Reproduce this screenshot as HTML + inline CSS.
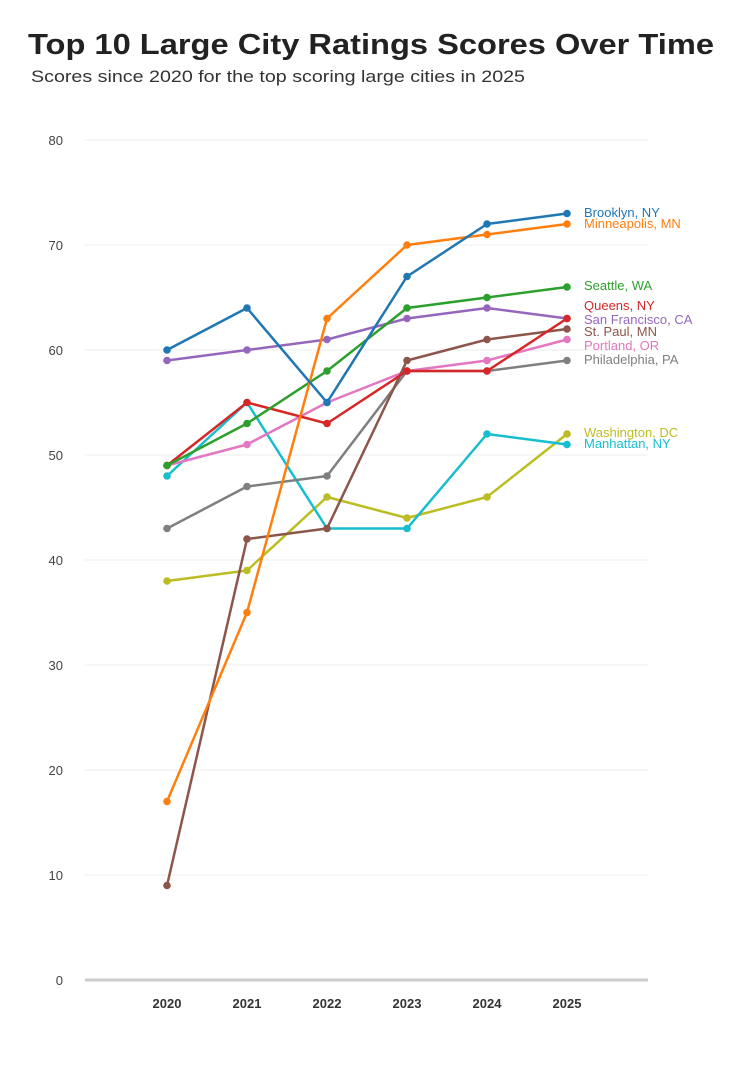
<!DOCTYPE html>
<html><head><meta charset="utf-8"><style>
body{margin:0;background:#fff;width:751px;height:1072px;overflow:hidden}
svg{display:block;font-family:"Liberation Sans",sans-serif}
.l{fill:none;stroke-width:2.5;stroke-linejoin:round}
.d{fill:none;stroke-width:7.6;stroke-linecap:round}
</style></head><body>
<svg width="751" height="1072" viewBox="0 0 751 1072">
<text x="28" y="54" font-size="29" font-weight="bold" fill="#222" textLength="686" lengthAdjust="spacingAndGlyphs">Top 10 Large City Ratings Scores Over Time</text>
<text x="31" y="82" font-size="17" fill="#333" textLength="494" lengthAdjust="spacingAndGlyphs">Scores since 2020 for the top scoring large cities in 2025</text>
<g stroke="#ececec" stroke-width="1">
<line x1="85" x2="648" y1="140" y2="140"/><line x1="85" x2="648" y1="245" y2="245"/><line x1="85" x2="648" y1="350" y2="350"/><line x1="85" x2="648" y1="455" y2="455"/><line x1="85" x2="648" y1="560" y2="560"/><line x1="85" x2="648" y1="665" y2="665"/><line x1="85" x2="648" y1="770" y2="770"/><line x1="85" x2="648" y1="875" y2="875"/>
</g>
<line x1="85" x2="648" y1="980" y2="980" stroke="#ccc" stroke-width="3"/>
<g font-size="13" fill="#444" text-anchor="end">
<text x="63" y="145">80</text><text x="63" y="250">70</text><text x="63" y="355">60</text><text x="63" y="460">50</text><text x="63" y="565">40</text><text x="63" y="670">30</text><text x="63" y="775">20</text><text x="63" y="880">10</text><text x="63" y="985">0</text>
</g>
<g font-size="13" font-weight="bold" fill="#333" text-anchor="middle">
<text x="167" y="1008">2020</text><text x="247" y="1008">2021</text><text x="327" y="1008">2022</text><text x="407" y="1008">2023</text><text x="487" y="1008">2024</text><text x="567" y="1008">2025</text>
</g>

<path class="l" stroke="#bcbd22" d="M167 581L247 570.5L327 497L407 518L487 497L567 434"/>
<path class="d" stroke="#bcbd22" d="M167 581h0M247 570.5h0M327 497h0M407 518h0M487 497h0M567 434h0"/>
<path class="l" stroke="#17becf" d="M167 476L247 402.5L327 528.5L407 528.5L487 434L567 444.5"/>
<path class="d" stroke="#17becf" d="M167 476h0M247 402.5h0M327 528.5h0M407 528.5h0M487 434h0M567 444.5h0"/>
<path class="l" stroke="#7f7f7f" d="M167 528.5L247 486.5L327 476L407 371L487 371L567 360.5"/>
<path class="d" stroke="#7f7f7f" d="M167 528.5h0M247 486.5h0M327 476h0M407 371h0M487 371h0M567 360.5h0"/>
<path class="l" stroke="#e377c2" d="M167 465.5L247 444.5L327 402.5L407 371L487 360.5L567 339.5"/>
<path class="d" stroke="#e377c2" d="M167 465.5h0M247 444.5h0M327 402.5h0M407 371h0M487 360.5h0M567 339.5h0"/>
<path class="l" stroke="#8c564b" d="M167 885.5L247 539L327 528.5L407 360.5L487 339.5L567 329"/>
<path class="d" stroke="#8c564b" d="M167 885.5h0M247 539h0M327 528.5h0M407 360.5h0M487 339.5h0M567 329h0"/>
<path class="l" stroke="#9467bd" d="M167 360.5L247 350L327 339.5L407 318.5L487 308L567 318.5"/>
<path class="d" stroke="#9467bd" d="M167 360.5h0M247 350h0M327 339.5h0M407 318.5h0M487 308h0M567 318.5h0"/>
<path class="l" stroke="#d62728" d="M167 465.5L247 402.5L327 423.5L407 371L487 371L567 318.5"/>
<path class="d" stroke="#d62728" d="M167 465.5h0M247 402.5h0M327 423.5h0M407 371h0M487 371h0M567 318.5h0"/>
<path class="l" stroke="#2ca02c" d="M167 465.5L247 423.5L327 371L407 308L487 297.5L567 287"/>
<path class="d" stroke="#2ca02c" d="M167 465.5h0M247 423.5h0M327 371h0M407 308h0M487 297.5h0M567 287h0"/>
<path class="l" stroke="#ff7f0e" d="M167 801.5L247 612.5L327 318.5L407 245L487 234.5L567 224"/>
<path class="d" stroke="#ff7f0e" d="M167 801.5h0M247 612.5h0M327 318.5h0M407 245h0M487 234.5h0M567 224h0"/>
<path class="l" stroke="#1f77b4" d="M167 350L247 308L327 402.5L407 276.5L487 224L567 213.5"/>
<path class="d" stroke="#1f77b4" d="M167 350h0M247 308h0M327 402.5h0M407 276.5h0M487 224h0M567 213.5h0"/>

<g font-size="13">
<text x="584" y="217" fill="#1f77b4">Brooklyn, NY</text>
<text x="584" y="228" fill="#ff7f0e">Minneapolis, MN</text>
<text x="584" y="290" fill="#2ca02c">Seattle, WA</text>
<text x="584" y="310" fill="#d62728">Queens, NY</text>
<text x="584" y="324" fill="#9467bd">San Francisco, CA</text>
<text x="584" y="336" fill="#8c564b">St. Paul, MN</text>
<text x="584" y="350" fill="#e377c2">Portland, OR</text>
<text x="584" y="364" fill="#7f7f7f">Philadelphia, PA</text>
<text x="584" y="437" fill="#bcbd22">Washington, DC</text>
<text x="584" y="448" fill="#17becf">Manhattan, NY</text>
</g>
</svg>
</body></html>
